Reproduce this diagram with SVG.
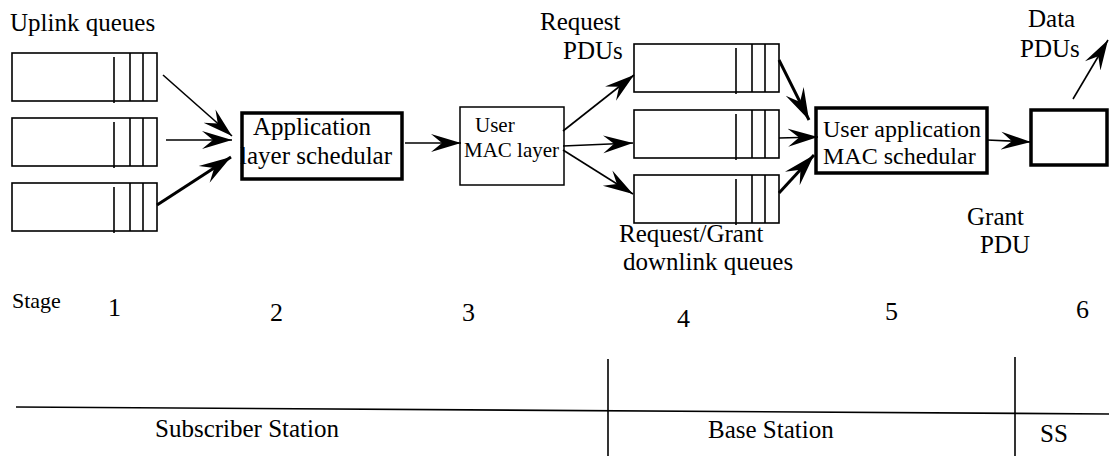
<svg xmlns="http://www.w3.org/2000/svg" width="1109" height="456" viewBox="0 0 1109 456" font-family="'Liberation Serif', 'Times New Roman', serif">
<style>
text{font-family:'Liberation Serif', 'Times New Roman', serif;fill:#000}
.t{font-size:25px}
.u{font-size:24px}
.s{font-size:21px}
.d{font-size:26px}
.q{fill:#fff;stroke:#000;stroke-width:1.6}
.ql{stroke:#000;stroke-width:1.6}
.bx{fill:#fff;stroke:#000;stroke-width:3.5}
.tb{fill:#fff;stroke:#000;stroke-width:1.5}
.a{stroke:#000;stroke-width:1.6;fill:none;marker-end:url(#ah)}
.ab{stroke:#000;stroke-width:3;fill:none;marker-end:url(#ahb)}
.ln{stroke:#000;stroke-width:1.6;fill:none}
</style>
<defs>
<marker id="ah" markerUnits="userSpaceOnUse" viewBox="0 0 30 20" refX="30" refY="10" markerWidth="30" markerHeight="20" orient="auto">
<path d="M30,10 L0,1 L11,10 L0,19 Z" fill="#000"/>
</marker>
<marker id="ahb" markerUnits="userSpaceOnUse" viewBox="0 0 32 22" refX="32" refY="11" markerWidth="32" markerHeight="22" orient="auto">
<path d="M32,11 L0,1 L12,11 L0,21 Z" fill="#000"/>
</marker>
<g id="queue">
<rect class="q" x="0" y="0" width="145" height="48"/>
<line class="ql" x1="102" y1="4" x2="102" y2="50"/>
<line class="ql" x1="118" y1="0" x2="118" y2="48"/>
<line class="ql" x1="131" y1="0" x2="131" y2="48"/>
</g>
</defs>

<text class="t" x="10" y="31">Uplink queues</text>

<g id="uq1"><use href="#queue" x="12" y="53"/></g>
<g id="uq2"><use href="#queue" x="12" y="118"/></g>
<g id="uq3"><use href="#queue" x="12" y="183"/></g>

<g id="app-scheduler">
<rect class="bx" x="242" y="113" width="160" height="66"/>
<text class="t" x="253" y="135">Application</text>
<text class="t" x="240" y="164">layer schedular</text>
</g>

<g id="user-mac">
<rect class="tb" x="460" y="107" width="104" height="78"/>
<text class="s" x="475" y="132">User</text>
<text class="s" x="464" y="157">MAC layer</text>
</g>

<text class="t" x="540" y="30">Request</text>
<text class="t" x="563" y="59">PDUs</text>

<g id="dq1"><use href="#queue" x="634" y="44"/></g>
<g id="dq2"><use href="#queue" x="634" y="110"/></g>
<g id="dq3"><use href="#queue" x="634" y="175"/></g>

<text class="t" x="619" y="242">Request/Grant</text>
<text class="t" x="623" y="270">downlink queues</text>

<g id="user-app-mac">
<rect class="bx" x="816" y="108" width="171" height="65"/>
<text class="u" x="823" y="137">User application</text>
<text class="u" x="823" y="164">MAC schedular</text>
</g>

<g id="ss-box">
<rect class="bx" x="1031" y="110" width="76" height="55"/>
</g>

<text class="t" x="1028" y="27">Data</text>
<text class="t" x="1020" y="57">PDUs</text>
<text class="t" x="967" y="225">Grant</text>
<text class="t" x="980" y="253">PDU</text>

<g id="connectors">
<line class="a" x1="163" y1="75" x2="232" y2="136"/>
<line class="a" x1="166" y1="140" x2="232" y2="140"/>
<line class="ab" x1="157" y1="205" x2="231" y2="157"/>
<line class="a" x1="405" y1="143" x2="461" y2="143"/>
<line class="a" x1="563" y1="131" x2="634" y2="75"/>
<line class="a" x1="563" y1="146" x2="633" y2="143"/>
<line class="a" x1="563" y1="150" x2="633" y2="194"/>
<line class="ab" x1="779" y1="60" x2="809" y2="120"/>
<line class="a" x1="779" y1="138" x2="818" y2="137"/>
<line class="ab" x1="779" y1="193" x2="814" y2="155"/>
<line class="a" x1="987" y1="140" x2="1031" y2="142"/>
<line class="a" x1="1073" y1="99" x2="1108" y2="40"/>
</g>

<g id="stages">
<text x="12" y="308" style="font-size:22px">Stage</text>
<text class="d" x="108" y="316">1</text>
<text class="d" x="270" y="321">2</text>
<text class="d" x="462" y="321">3</text>
<text class="d" x="677" y="327">4</text>
<text class="d" x="885" y="320">5</text>
<text class="d" x="1076" y="318">6</text>
</g>

<g id="regions">
<line class="ln" x1="16" y1="407" x2="1109" y2="414"/>
<line class="ln" x1="608" y1="359" x2="608" y2="456"/>
<line class="ln" x1="1015" y1="357" x2="1015" y2="456"/>
<text class="t" x="155" y="437">Subscriber Station</text>
<text class="t" x="708" y="438">Base Station</text>
<text class="t" x="1040" y="442">SS</text>
</g>
</svg>
